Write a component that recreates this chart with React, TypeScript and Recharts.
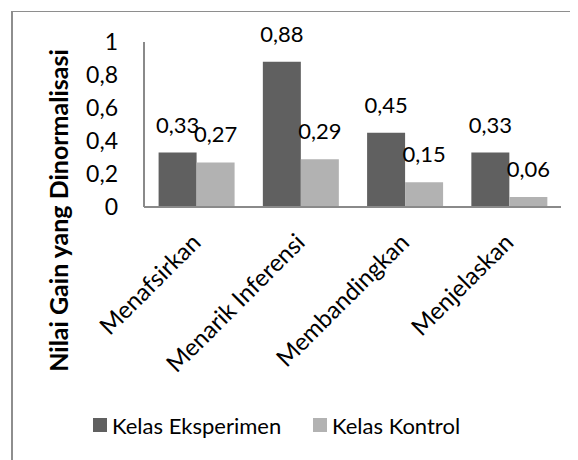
import { BarChart, Bar, XAxis, YAxis, Legend, LabelList } from 'recharts';

const CATEGORIES = ['Menafsirkan', 'Menarik Inferensi', 'Membandingkan', 'Menjelaskan'];
const EKSPERIMEN = [0.33, 0.88, 0.45, 0.33];
const KONTROL = [0.27, 0.29, 0.15, 0.06];
const Y_TICKS = [0, 0.2, 0.4, 0.6, 0.8, 1];
const SERIES = [
  { key: 'eksperimen', name: 'Kelas Eksperimen', color: '#606060' },
  { key: 'kontrol', name: 'Kelas Kontrol', color: '#b2b2b2' },
];
const Y_TITLE = 'Nilai Gain yang Dinormalisasi';

const FONT = 'Lato, "Open Sans", sans-serif';

const comma = (v: number) => String(v).replace('.', ',');

const data = CATEGORIES.map((name, i) => ({
  name,
  eksperimen: EKSPERIMEN[i],
  kontrol: KONTROL[i],
}));

// rotated category labels, end of text sits just right of the category centre
const CategoryTick = (props: any) => {
  const { x, y, payload } = props;
  const tx = x + 6;
  const ty = y + 37;
  return (
    <text
      x={tx}
      y={ty}
      textAnchor="end"
      transform={`rotate(-45, ${tx}, ${ty})`}
      fontFamily={FONT}
      fontSize={24}
      fill="#000"
    >
      {payload.value}
    </text>
  );
};

const YTitle = (props: any) => {
  const { viewBox } = props;
  const cx = viewBox.x + 50;
  const cy = viewBox.y + viewBox.height / 2 + 86;
  return (
    <text
      x={cx}
      y={cy}
      textAnchor="middle"
      dominantBaseline="central"
      transform={`rotate(-90, ${cx}, ${cy})`}
      fontFamily={FONT}
      fontWeight="bold"
      fontSize={25}
      fill="#000"
    >
      {Y_TITLE}
    </text>
  );
};

const LegendContent = () => (
  <div style={{ display: 'flex', alignItems: 'center', height: 30, fontFamily: FONT, fontSize: 22 }}>
    {SERIES.map((s) => (
      <div key={s.key} style={{ display: 'flex', alignItems: 'center', width: 220 }}>
        <span style={{ width: 14, height: 14, background: s.color, marginRight: 5 }} />
        <span>{s.name}</span>
      </div>
    ))}
  </div>
);

export default function App() {
  return (
    <div style={{ position: 'relative', width: 570, height: 452 }}>
      <div
        style={{
          position: 'absolute',
          left: 3,
          top: 3,
          right: -20,
          bottom: -20,
          borderLeft: '2px solid #8e8e8e',
          borderTop: '1px solid #8e8e8e',
        }}
      />
      <BarChart
        width={570}
        height={452}
        data={data}
        margin={{ top: 34, right: 17, left: 0, bottom: 20 }}
        barCategoryGap="14%"
        barGap={0}
      >
        <XAxis
          dataKey="name"
          height={203}
          tickSize={0}
          tickMargin={0}
          interval={0}
          tick={<CategoryTick />}
          axisLine={{ stroke: '#8a8a8a', strokeWidth: 2 }}
        />
        <YAxis
          width={136}
          domain={[0, 1]}
          ticks={Y_TICKS}
          interval={0}
          tickFormatter={comma}
          tickSize={0}
          tickMargin={26}
          tick={{ fill: '#000', fontSize: 23, fontFamily: FONT }}
          axisLine={{ stroke: '#8a8a8a', strokeWidth: 2 }}
          label={<YTitle />}
        />
        <Legend
          verticalAlign="bottom"
          content={<LegendContent />}
          wrapperStyle={{ left: 85, width: 460 }}
        />
        {SERIES.map((s) => (
          <Bar key={s.key} dataKey={s.key} name={s.name} fill={s.color} isAnimationActive={false}>
            <LabelList
              dataKey={s.key}
              position="top"
              offset={20}
              formatter={(v: any) => comma(Number(v))}
              style={{ fill: '#000', fontSize: 22, fontFamily: FONT }}
            />
          </Bar>
        ))}
      </BarChart>
    </div>
  );
}
